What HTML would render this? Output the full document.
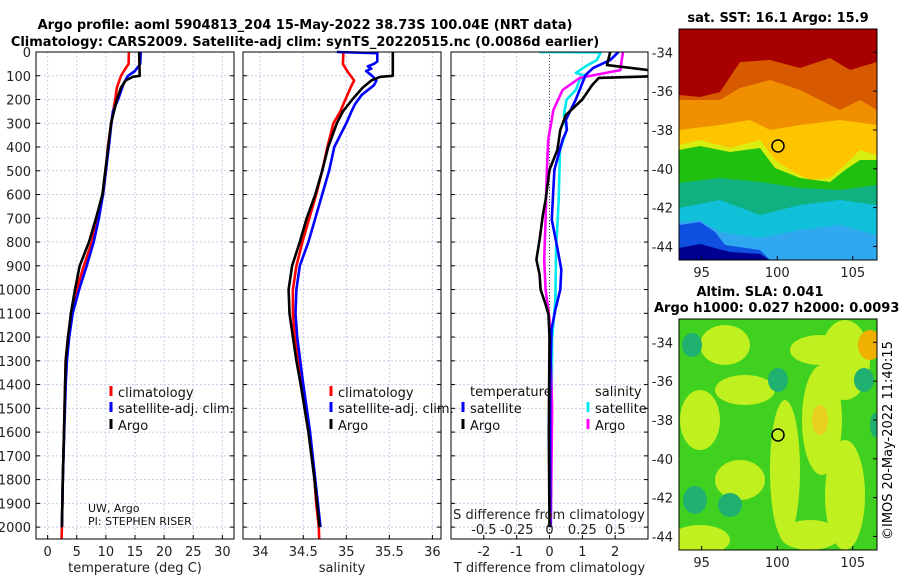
<!DOCTYPE html>
<html><head><meta charset="utf-8"><style>
body{margin:0;background:#fff;width:900px;height:580px;overflow:hidden}
svg{display:block;font-family:"DejaVu Sans","Liberation Sans",sans-serif}
</style></head><body>
<svg id="chart" width="900" height="580" viewBox="0 0 900 580">
<g font-weight="bold" font-size="13" text-anchor="middle">
<text x="305" y="29">Argo profile: aoml 5904813_204 15-May-2022 38.73S 100.04E (NRT data)</text>
<text x="305" y="46">Climatology: CARS2009. Satellite-adj clim: synTS_20220515.nc (0.0086d earlier)</text>
</g>
<g id="maps">
<clipPath id="c1"><rect x="679" y="29" width="198" height="231"/></clipPath>
<clipPath id="c2"><rect x="679" y="319" width="198" height="231"/></clipPath>
<g clip-path="url(#c1)">
<rect x="679" y="29" width="198" height="231" fill="#a80000"/>
<path d="M679,95 L700,97 L720,92 L740,62 L770,60 L800,68 L830,58 L850,70 L877,62 L877,260 L679,260Z" fill="#d85a00"/>
<path d="M679,100 L720,100 L740,88 L770,80 L800,90 L820,100 L840,110 L860,100 L877,110 L877,260 L679,260Z" fill="#f09000"/>
<path d="M679,130 L720,125 L750,120 L770,130 L800,125 L840,120 L877,125 L877,260 L679,260Z" fill="#ffc400"/>
<path d="M679,145 L700,140 L730,148 L760,140 L775,160 L790,170 L810,180 L830,178 L845,165 L860,150 L877,155 L877,260 L679,260Z" fill="#d8ee10"/>
<path d="M679,150 L700,146 L730,152 L760,148 L775,168 L800,178 L830,182 L845,170 L860,160 L877,160 L877,260 L679,260Z" fill="#20c010"/>
<path d="M679,183 L720,178 L760,182 L800,188 L840,190 L877,185 L877,260 L679,260Z" fill="#10b080"/>
<path d="M679,208 L720,200 L760,215 L800,205 L840,200 L877,205 L877,260 L679,260Z" fill="#10c0d8"/>
<path d="M679,222 L700,220 L720,232 L760,238 L800,230 L840,225 L877,235 L877,260 L679,260Z" fill="#30a8f0"/>
<path d="M679,225 L700,222 L715,232 L725,245 L760,250 L770,260 L679,260Z" fill="#1050e0"/>
<path d="M679,248 L700,244 L730,252 L760,254 L770,260 L679,260Z" fill="#000090"/>
</g>
<rect x="679" y="29" width="198" height="231" fill="none" stroke="#000"/>
<circle cx="778" cy="146" r="6" fill="#ffd000" stroke="#000" stroke-width="1.5"/>
<g clip-path="url(#c2)">
<rect x="679" y="319" width="198" height="231" fill="#40d020"/>
<g fill="#c0f020">
<ellipse cx="725" cy="345" rx="25" ry="20"/><ellipse cx="820" cy="350" rx="30" ry="15"/><ellipse cx="845" cy="360" rx="25" ry="40"/>
<ellipse cx="822" cy="420" rx="20" ry="55"/><ellipse cx="700" cy="420" rx="20" ry="30"/><ellipse cx="745" cy="390" rx="30" ry="15"/>
<ellipse cx="785" cy="470" rx="15" ry="70"/><ellipse cx="740" cy="480" rx="25" ry="20"/><ellipse cx="845" cy="495" rx="20" ry="55"/>
<ellipse cx="700" cy="540" rx="30" ry="15"/><ellipse cx="810" cy="535" rx="30" ry="15"/>
</g>
<ellipse cx="870" cy="345" rx="12" ry="15" fill="#f0b000"/>
<ellipse cx="820" cy="420" rx="8" ry="15" fill="#e8d020"/>
<g fill="#20b070">
<ellipse cx="692" cy="345" rx="10" ry="12"/><ellipse cx="778" cy="380" rx="10" ry="12"/><ellipse cx="864" cy="380" rx="10" ry="12"/>
<ellipse cx="730" cy="505" rx="12" ry="12"/><ellipse cx="695" cy="500" rx="12" ry="14"/><ellipse cx="875" cy="425" rx="5" ry="12"/>
</g>
</g>
<rect x="679" y="319" width="198" height="231" fill="none" stroke="#000"/>
<circle cx="778" cy="435" r="6" fill="none" stroke="#000" stroke-width="1.5"/>
<g font-weight="bold" font-size="13" text-anchor="middle">
<text x="778" y="22">sat. SST: 16.1 Argo: 15.9</text>
<text x="760" y="296">Altim. SLA: 0.041</text>
<text x="654" y="312" text-anchor="start">Argo h1000: 0.027 h2000: 0.0093</text>
</g>
<text transform="translate(892,540) rotate(-90)" font-size="13">©IMOS 20-May-2022 11:40:15</text>
</g>
</svg>
<script>
const NS='http://www.w3.org/2000/svg';
const svg=document.getElementById('chart');
// ---- data ----
const depthTicks=[0,100,200,300,400,500,600,700,800,900,1000,1100,1200,1300,1400,1500,1600,1700,1800,1900,2000];
const tempTicks=[0,5,10,15,20,25,30];
const salTicks=[34,34.5,35,35.5,36];
const tdiffTicks=[-2,-1,0,1,2];
const sdiffTicks=[-0.5,-0.25,0,0.25,0.5];
const latTicks=[-34,-36,-38,-40,-42,-44];
const lonTicks=[95,100,105];
const tClimDepth=[0,50,80,100,150,200,300,400,500,600,700,800,900,1000,1100,1200,1300,1400,1500,1600,1800,2000,2050];
const tClim=[13.95,13.9,13.1,12.6,11.9,11.6,10.9,10.35,10,9.5,8.6,7.6,6.2,5.0,4.2,3.5,3.1,3.0,2.9,2.8,2.6,2.45,2.4];
const tSatDepth=[0,50,80,100,130,200,250,300,400,500,600,700,800,900,1000,1100,1200,1300,1400,1600,1800,2000];
const tSat=[16.0,15.9,15.0,13.8,13.1,12.1,11.2,10.95,10.5,10,9.5,8.8,7.9,6.7,5.4,4.3,3.7,3.3,3.1,2.85,2.6,2.45];
const tArgoDepth=[0,100,105,120,150,200,300,400,500,600,700,800,900,1000,1100,1200,1300,1400,1600,1800,2000];
const tArgo=[15.7,15.8,14.6,13.4,12.6,11.9,10.9,10.4,9.9,9.4,8.3,7.1,5.5,4.7,4.0,3.5,3.1,3.0,2.8,2.6,2.45];
const sClimDepth=[0,50,80,120,150,200,250,300,400,500,600,700,800,900,1000,1100,1200,1300,1400,1500,1600,1700,1800,1900,2000,2050];
const sClim=[34.966,34.96,35.01,35.09,35.05,34.99,34.93,34.85,34.78,34.72,34.65,34.57,34.49,34.42,34.38,34.38,34.40,34.44,34.49,34.53,34.57,34.60,34.63,34.65,34.68,34.685];
const sSatDepth=[0,5,40,50,60,70,80,100,120,140,180,220,250,300,350,400,500,600,700,800,900,1000,1100,1200,1400,1600,1800,2000];
const sSat=[34.89,35.36,35.36,35.32,35.25,35.29,35.23,35.30,35.35,35.32,35.18,35.10,35.06,35.0,34.93,34.86,34.80,34.72,34.64,34.56,34.46,34.42,34.41,34.43,34.50,34.58,34.64,34.70];
const sArgoDepth=[0,100,105,120,150,200,250,300,400,500,600,700,800,900,1000,1100,1200,1300,1400,1600,1800,2000];
const sArgo=[35.54,35.54,35.39,35.29,35.19,35.07,34.96,34.89,34.79,34.72,34.64,34.54,34.46,34.37,34.33,34.34,34.38,34.42,34.47,34.56,34.63,34.69];
const dtArgoDepth=[0,55,84,101,109,139,200,265,328,412,496,622,685,790,874,937,1000,1063,1105,1200,1600,2000];
const dtArgo=[1.85,1.75,3.5,3.5,1.5,1.3,1.0,0.5,0.33,0.24,0,-0.12,-0.2,-0.3,-0.4,-0.3,-0.27,-0.12,-0.03,0,-0.02,0];
const dtSatDepth=[0,34,67,97,200,286,328,370,496,622,706,832,916,1000,1084,1168,1400,2000];
const dtSat=[2.1,1.85,1.33,1.1,0.8,0.5,0.53,0.4,0.15,0.1,0.07,0.25,0.36,0.33,0.18,0.06,0.02,0.02];
const dsArgoDepth=[0,34,76,109,160,244,370,496,706,874,1000,1126,1300,1500,2000];
const dsArgo=[0.56,0.55,0.54,0.23,0.1,0.03,-0.01,-0.02,-0.03,-0.04,-0.03,0,0.01,0.02,0.01];
const dsSatDepth=[0,2,34,55,88,100,118,160,200,265,328,412,622,832,1042,1210,1600,2000];
const dsSat=[-0.08,0.39,0.36,0.29,0.2,0.27,0.23,0.2,0.13,0.11,0.13,0.08,0.07,0.05,0.045,0.02,0.015,0.01];
// ---- axes ----
const Y0=52,Y1=539,DMAX=2050;
const yD=d=>Y0+d/DMAX*(Y1-Y0);
const panels=[
 {name:'temperature-panel',x0:36,x1:234,min:-2,max:32,ticks:tempTicks,label:'temperature (deg C)',ylab:true},
 {name:'salinity-panel',x0:243,x1:441,min:33.8,max:36.1,ticks:salTicks,label:'salinity'},
 {name:'difference-panel',x0:451,x1:648,min:-3,max:3,ticks:tdiffTicks,label:'T difference from climatology'}];
panels.forEach(p=>{p.x=v=>p.x0+(v-p.min)/(p.max-p.min)*(p.x1-p.x0);});
const sdx=v=>panels[2].x(v*4);
function el(tag,attrs,parent){const e=document.createElementNS(NS,tag);for(const k in attrs)e.setAttribute(k,attrs[k]);(parent||svg).appendChild(e);return e;}
panels.forEach((p,i)=>{
 const g=el('g',{});
 
 
 depthTicks.forEach(d=>{
  const l=el('line',{x1:p.x0,x2:p.x1,y1:yD(d),y2:yD(d),stroke:'#c8cce8','stroke-dasharray':'2,2'},g);
  
  
  el('line',{x1:p.x0,x2:p.x0+4,y1:yD(d),y2:yD(d),stroke:'#000'},g);
  el('line',{x1:p.x1-4,x2:p.x1,y1:yD(d),y2:yD(d),stroke:'#000'},g);
  if(p.ylab){const t=el('text',{x:31,y:yD(d)+5,'font-size':13,'text-anchor':'end',fill:'#222'},g);t.textContent=d;
   
   }
 });
 p.ticks.forEach(v=>{
  const x=p.x(v);
  const l=el('line',{x1:x,x2:x,y1:Y0,y2:Y1,stroke:'#c8cce8','stroke-dasharray':'2,2'},g);
  
  
  el('line',{x1:x,x2:x,y1:Y1-4,y2:Y1,stroke:'#000'},g);
  const t=el('text',{x:x,y:556,'font-size':13,'text-anchor':'middle',fill:'#222'},g);t.textContent=v;
  
  
 });
 const t=el('text',{x:(p.x0+p.x1)/2,y:572,'font-size':13,'text-anchor':'middle',fill:'#222'},g);t.textContent=p.label;
 
 
 p.g=g;
});
el('line',{x1:panels[2].x(0),x2:panels[2].x(0),y1:Y0,y2:Y1,stroke:'#444','stroke-dasharray':'1,2'},panels[2].g);
const cp=el('clipPath',{id:'pc'});el('rect',{x:451,y:52,width:197,height:487},cp);
function line(xs,ds,fx,color,name,g,clip){
 const d=xs.map((v,i)=>(i?'L':'M')+fx(v).toFixed(1)+','+yD(ds[i]).toFixed(1)).join('');
 const p=el('path',{d:d,fill:'none',stroke:color,'stroke-width':2.6,'stroke-linejoin':'round'},g);
 if(clip)p.setAttribute('clip-path','url(#pc)');
 
 
}
const P=panels;
line(tClim,tClimDepth,P[0].x,'#f00','temp-climatology-line',P[0].g);
line(tSat,tSatDepth,P[0].x,'#00f','temp-satellite-line',P[0].g);
line(tArgo,tArgoDepth,P[0].x,'#000','temp-argo-line',P[0].g);
line(sClim,sClimDepth,P[1].x,'#f00','sal-climatology-line',P[1].g);
line(sSat,sSatDepth,P[1].x,'#00f','sal-satellite-line',P[1].g);
line(sArgo,sArgoDepth,P[1].x,'#000','sal-argo-line',P[1].g);
line(dsSat,dsSatDepth,sdx,'#00e8f0','sdiff-satellite-line',P[2].g,1);
line(dsArgo,dsArgoDepth,sdx,'#f0f','sdiff-argo-line',P[2].g,1);
line(dtSat,dtSatDepth,P[2].x,'#00f','tdiff-satellite-line',P[2].g,1);
line(dtArgo,dtArgoDepth,P[2].x,'#000','tdiff-argo-line',P[2].g,1);
panels.forEach(p=>{const r=el('rect',{x:p.x0,y:Y0,width:p.x1-p.x0,height:Y1-Y0,fill:'none',stroke:'#000'},p.g);
 
 });
// S diff axis labels
sdiffTicks.forEach(v=>{const t=el('text',{x:sdx(v),y:534,'font-size':13,'text-anchor':'middle',fill:'#222'});t.textContent=v;
 
 });
{const t=el('text',{x:549,y:519,'font-size':13,'text-anchor':'middle',fill:'#222'});t.textContent='S difference from climatology';
 
 }
// legends
function leg(x,y,color,label,name){
 const g=el('g',{});
 
 
 el('rect',{x:x-1.5,y:y-11,width:3,height:10,fill:color},g);
 const t=el('text',{x:x+7,y:y,'font-size':13,fill:'#111'},g);t.textContent=label;
}
leg(111,397,'#f00','climatology','temp-legend-climatology');
leg(111,413,'#00f','satellite-adj. clim.','temp-legend-satellite');
leg(111,430,'#000','Argo','temp-legend-argo');
leg(331,397,'#f00','climatology','sal-legend-climatology');
leg(331,413,'#00f','satellite-adj. clim.','sal-legend-satellite');
leg(331,430,'#000','Argo','sal-legend-argo');
{const t=el('text',{x:470,y:396,'font-size':13,fill:'#111'});t.textContent='temperature';
 
 
 const s=el('text',{x:595,y:396,'font-size':13,fill:'#111'});s.textContent='salinity';
 
 }
leg(463,413,'#00f','satellite','diff-legend-temp-satellite');
leg(463,430,'#000','Argo','diff-legend-temp-argo');
leg(588,413,'#00e8f0','satellite','diff-legend-sal-satellite');
leg(588,430,'#f0f','Argo','diff-legend-sal-argo');
{const t=el('text',{x:88,y:512,'font-size':11,fill:'#111'});t.textContent='UW, Argo';
 
 
 const s=el('text',{x:88,y:525,'font-size':11,fill:'#111'});s.textContent='PI: STEPHEN RISER';
 
 }
// map ticks
const maps=[{top:29,bot:260},{top:319,bot:550}];
const latY=(m,l)=>m.top+(-32.8-l)/11.9*(m.bot-m.top);
const lonX=l=>679+(l-93.5)/13.1*198;
maps.forEach(m=>{
 latTicks.forEach(l=>{const y=latY(m,l);el('line',{x1:877,x2:873,y1:y,y2:y,stroke:'#000'});
  const t=el('text',{x:673,y:y+5,'font-size':13,'text-anchor':'end',fill:'#222'});t.textContent=l;
  
  });
 lonTicks.forEach(l=>{const x=lonX(l);el('line',{x1:x,x2:x,y1:m.bot,y2:m.bot-4,stroke:'#000'});
  const t=el('text',{x:x,y:m.bot+17,'font-size':13,'text-anchor':'middle',fill:'#222'});t.textContent=l;
  
  });
});
</script>
</body></html>
